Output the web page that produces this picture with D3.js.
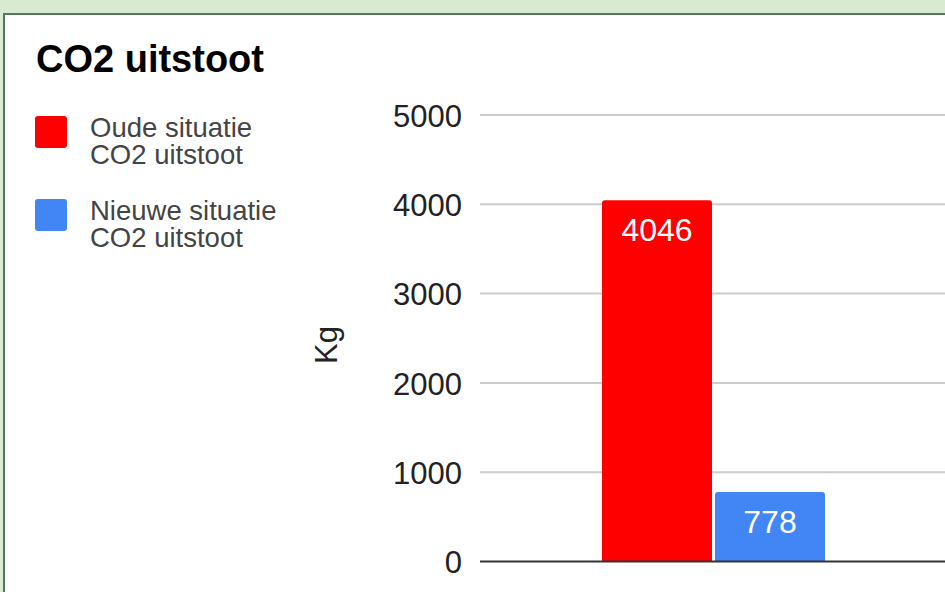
<!doctype html>
<html>
  <head>
    <meta charset="utf-8"/>
    <style>
      html, body { margin: 0; padding: 0; background: #d9ead3; overflow: hidden; }
      text { font-family: 'Liberation Sans', Arial, sans-serif; }
    </style>
  </head>
  <body>
    <script src="https://cdn.jsdelivr.net/npm/d3@7"></script>
    <script>

      const categories = ['CO2 uitstoot'];
      const seriesNames = ['Oude situatie CO2 uitstoot', 'Nieuwe situatie CO2 uitstoot'];
      const legendLines = [['Oude situatie', 'CO2 uitstoot'], ['Nieuwe situatie', 'CO2 uitstoot']];
      const values = [4046, 778];
      const colors = ['#ff0000', '#4285f4'];
      const yTicks = [0, 1000, 2000, 3000, 4000, 5000];
      const chartTitle = 'CO2 uitstoot';
      const yTitle = 'Kg';

      const W = 945, H = 592;
      const plot = { left: 480, right: 947, top: 115, bottom: 561.5 };

      const svg = d3.select('body').append('svg')
            .attr('width', W)
            .attr('height', H)
            .style('display', 'block');

      // panel with the green frame
      svg.append('rect')
        .attr('x', 4).attr('y', 14)
        .attr('width', W).attr('height', H)
        .attr('fill', '#fff')
        .attr('stroke', '#557560')
        .attr('stroke-width', 2);

      svg.append('text')
        .attr('x', 36).attr('y', 72)
        .attr('font-size', 38)
        .attr('font-weight', 'bold')
        .attr('fill', '#000')
        .text(chartTitle);

      const y = d3.scaleLinear()
            .domain([0, 5000])
            .range([plot.bottom, plot.top]);

      const x0 = d3.scaleBand()
            .domain(categories)
            .range([plot.left, plot.right])
            .paddingInner(0)
            .paddingOuter(0.547);

      const x1 = d3.scaleBand()
            .domain(seriesNames)
            .range([0, x0.bandwidth()])
            .paddingInner(0.0265);

      // grid
      const grid = svg.append('g');
      grid.selectAll('line')
        .data(yTicks.filter(d => d > 0))
        .join('line')
        .attr('x1', plot.left).attr('x2', W)
        .attr('y1', d => y(d)).attr('y2', d => y(d))
        .attr('stroke', '#cccccc')
        .attr('stroke-width', 2);

      // y axis labels
      const yAxis = d3.axisLeft(y).tickValues(yTicks).tickFormat(d3.format('d')).tickSize(0).tickPadding(0);
      const ya = svg.append('g')
            .attr('transform', `translate(${plot.left - 18},0)`)
            .call(yAxis);
      ya.select('.domain').remove();
      ya.selectAll('text')
        .attr('font-family', "'Liberation Sans', Arial, sans-serif")
        .attr('font-size', 31)
        .attr('fill', '#222')
        .attr('dy', '0.36em');

      svg.append('text')
        .attr('transform', `translate(${337},${345}) rotate(-90)`)
        .attr('text-anchor', 'middle')
        .attr('font-size', 31)
        .attr('fill', '#222')
        .text(yTitle);

      // bars with rounded tops
      const r = 3;
      const barPath = (x, top, w, bottom) =>
        `M${x},${bottom}V${top + r}Q${x},${top} ${x + r},${top}H${x + w - r}Q${x + w},${top} ${x + w},${top + r}V${bottom}Z`;

      const bars = svg.append('g')
            .selectAll('g')
            .data(values.map((v, i) => ({ v, name: seriesNames[i], color: colors[i], cat: categories[0] })))
            .join('g');

      bars.append('path')
        .attr('d', d => barPath(x0(d.cat) + x1(d.name), y(d.v), x1.bandwidth(), y(0)))
        .attr('fill', d => d.color);

      bars.append('text')
        .attr('x', d => x0(d.cat) + x1(d.name) + x1.bandwidth() / 2)
        .attr('y', d => y(d.v) + 41)
        .attr('text-anchor', 'middle')
        .attr('font-size', 32)
        .attr('fill', '#fff')
        .text(d => d.v);

      // baseline
      svg.append('line')
        .attr('x1', plot.left).attr('x2', W)
        .attr('y1', y(0)).attr('y2', y(0))
        .attr('stroke', '#333')
        .attr('stroke-width', 2);

      // legend
      const legend = svg.append('g')
            .selectAll('g')
            .data(legendLines)
            .join('g')
            .attr('transform', (d, i) => `translate(35,${116 + i * 83})`);

      legend.append('rect')
        .attr('width', 32).attr('height', 32)
        .attr('rx', 3)
        .attr('fill', (d, i) => colors[i]);

      legend.append('text')
        .attr('x', 55)
        .attr('font-size', 27.5)
        .attr('fill', '#444')
        .selectAll('tspan')
        .data(d => d)
        .join('tspan')
        .attr('x', 55)
        .attr('y', (d, i) => 21 + i * 27)
        .text(d => d);

    </script>
  </body>
</html>
